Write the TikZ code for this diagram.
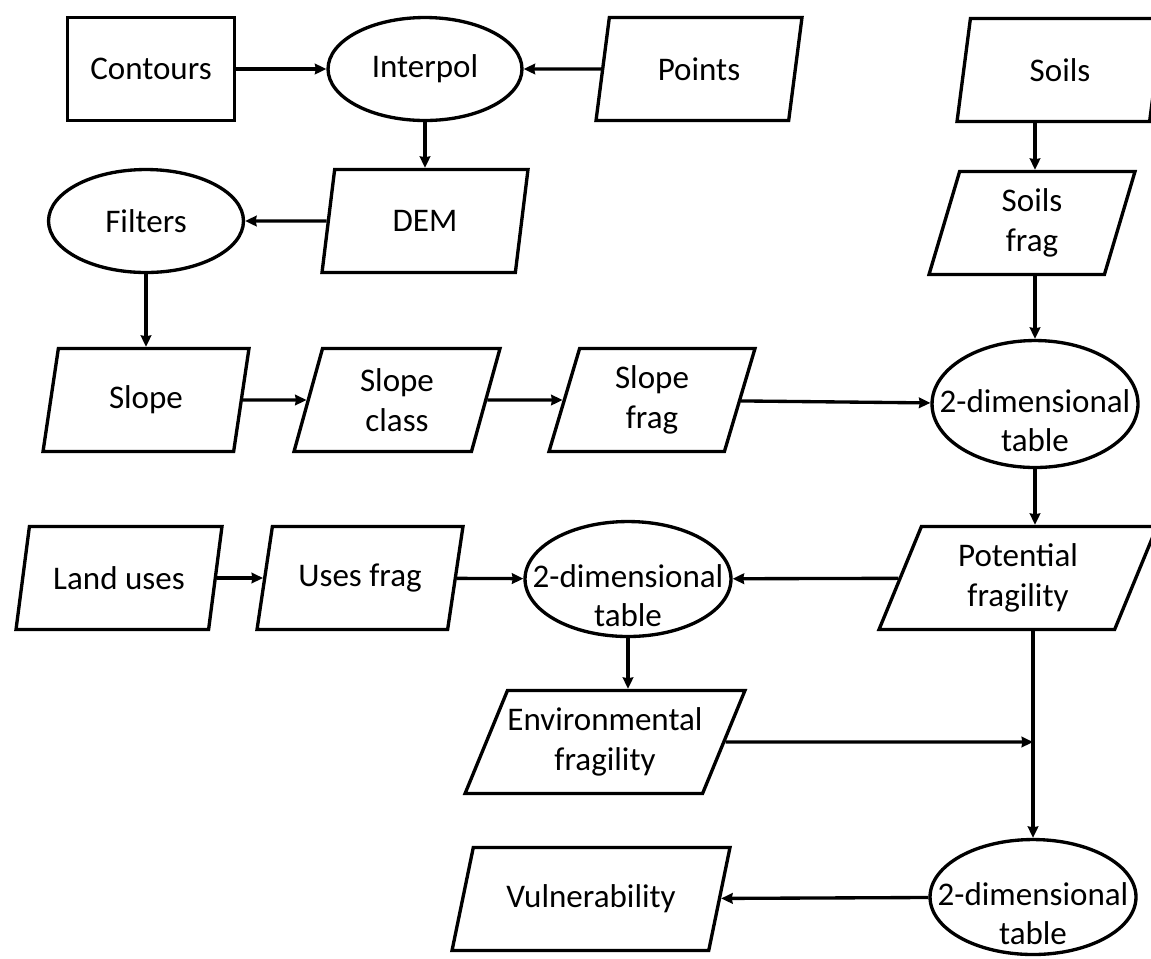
\documentclass[tikz,border=0pt]{standalone}
\usepackage{fontspec}
\setmainfont{Carlito}
\usetikzlibrary{shapes.geometric,arrows.meta}
\tikzset{
	io/.style={draw, trapezium, trapezium left angle=69, trapezium right angle=111, trapezium stretches body, minimum width=4.12cm, minimum height=2.06cm, inner xsep=0pt, align=center},
	wideio/.style={io, trapezium left angle=62, trapezium right angle=118, minimum width=5.56cm},
	proc/.style={draw, ellipse, minimum width=3.9cm, minimum height=2.06cm},
	tab/.style={draw, ellipse, minimum width=4.12cm, minimum height=2.4cm, label={[align=center, yshift=-9.5pt]center:2-dimensional\\table}},
}
\begin{document}
\begin{tikzpicture}[x=0.02cm, y=-0.02cm, line width=1.9pt, font=\fontsize{18.8}{22.4}\selectfont, >={Stealth[length=6.5pt,width=6pt,inset=0.5pt]}]
			\useasboundingbox (0,0) rectangle (1151,958);
			\clip (0,0) rectangle (1151,958);
			\node[draw, minimum width=3.34cm, minimum height=2.06cm] (cont) at (151,69) {Contours};
			\node[proc, minimum width=3.88cm] (interp) at (425,69) {Interpol};
			\node[io] (pts) at (699,69) {Points};
			\node[io] (soils) at (1060,70) {Soils};
			\node[proc] (filt) at (146,221) {Filters};
			\node[io] (dem) at (425,221) {DEM};
			\node[io] (sfrag) at (1032,223) {Soils\\frag};
			\node[io] (slope) at (146,400) {Slope};
			\node[io] (slcl) at (397,400) {Slope\\class};
			\node[io] (slfr) at (652,400) {Slope\\frag};
			\node[tab, minimum height=2.54cm] (tab1) at (1035,404) {};
			\node[io] (land) at (119,578) {Land uses};
			\node[io] (usfr) at (360,578) {Uses frag};
			\node[tab, minimum height=2.3cm] (tab2) at (628,579) {};
			\node[wideio] (pot) at (1018,578) {Potential\\fragility};
			\node[wideio] (env) at (605,742) {Environmental\\fragility};
			\node[tab, minimum height=2.3cm] (tab3) at (1033,897) {};
			\node[wideio] (vuln) at (591,899) {Vulnerability};
			\coordinate (join) at (env -| tab3);
			\path[->]
			(cont) edge (interp)
			(pts) edge (interp)
			(interp) edge (interp |- dem.north)
			(dem) edge (filt)
			(filt) edge (filt |- slope.north)
			(slope) edge (slcl)
			(slcl) edge (slfr)
			(slfr) edge (tab1)
			(soils.south -| tab1) edge (sfrag.north -| tab1)
			(sfrag.south -| tab1) edge (tab1)
			(tab1) edge (tab1 |- pot.north)
			(land) edge (usfr)
			(usfr) edge (tab2)
			(pot) edge (tab2)
			(tab2) edge (tab2 |- env.north)
			(env) edge (join)
			(pot.south -| tab3) edge (tab3)
			(tab3) edge (vuln);
		\end{tikzpicture}
\end{document}
